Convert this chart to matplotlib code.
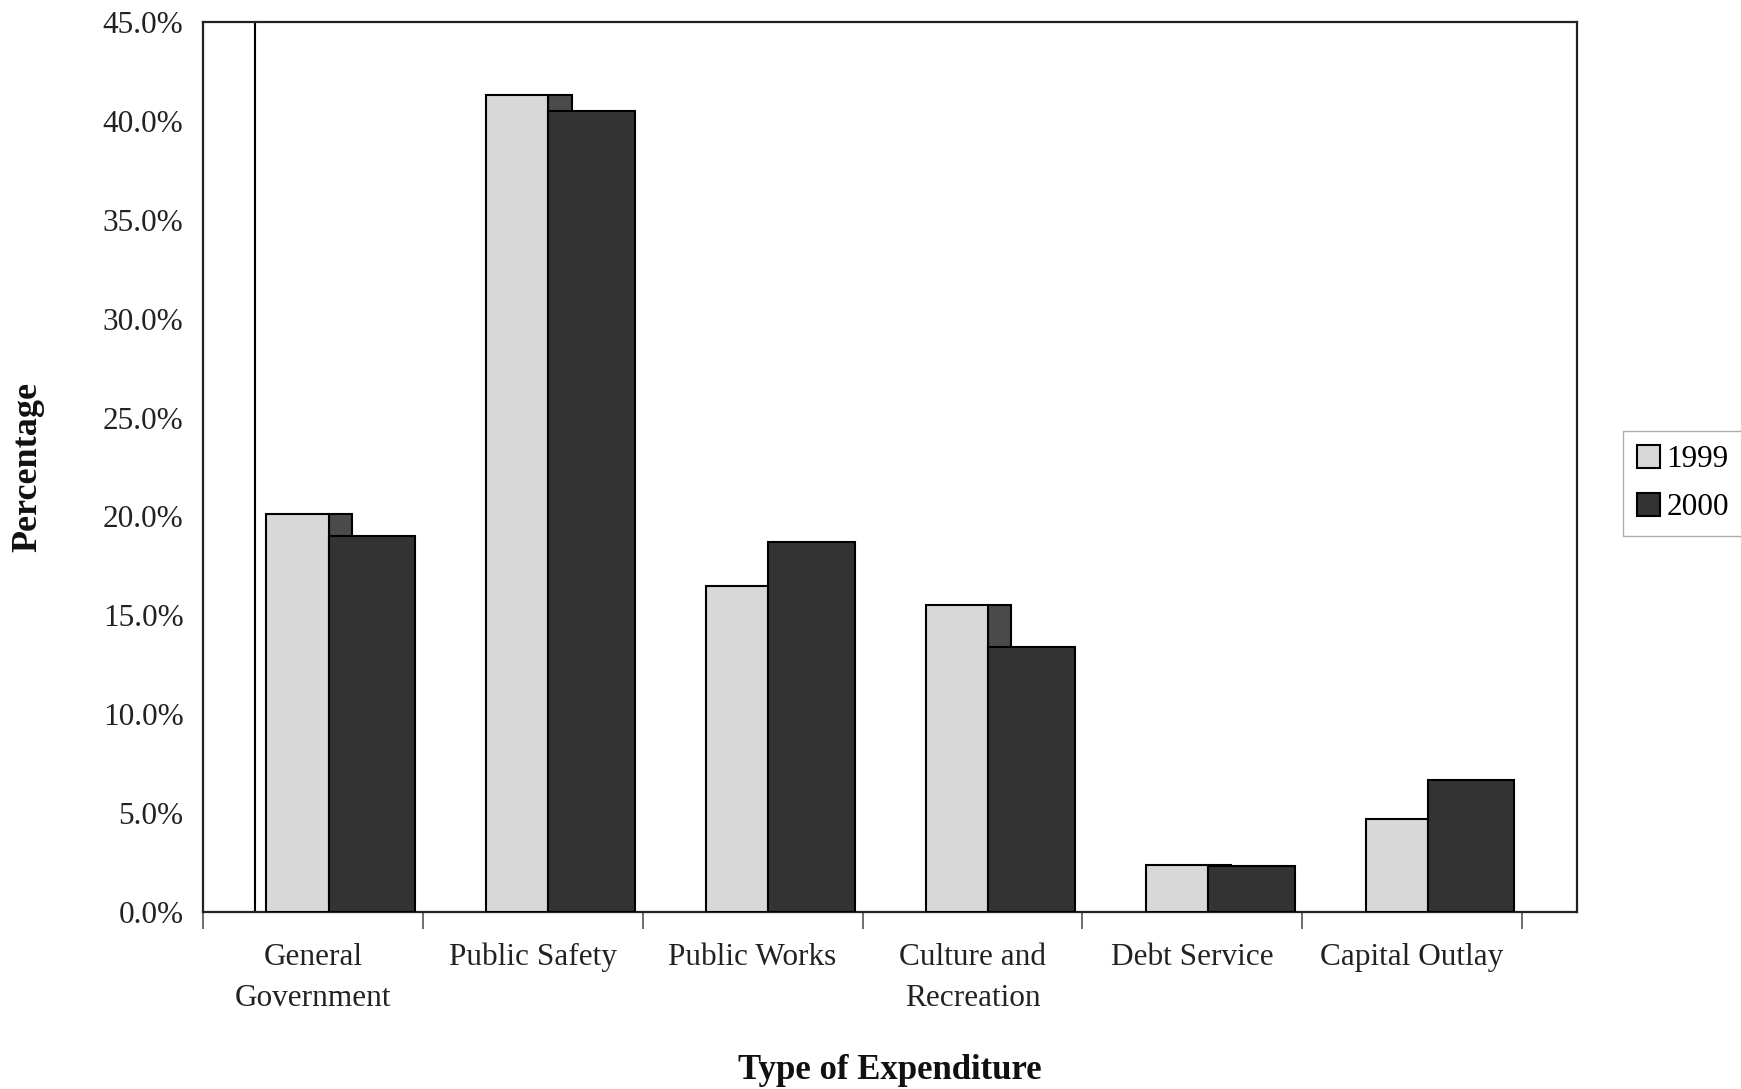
import matplotlib
matplotlib.use("Agg")
import matplotlib.pyplot as plt
import numpy as np
from matplotlib.ticker import FuncFormatter, FixedLocator

categories = ["General\nGovernment", "Public Safety", "Public Works",
              "Culture and\nRecreation", "Debt Service", "Capital Outlay"]
series_names = ["1999", "2000"]
values_1999 = [20.1, 41.3, 16.5, 15.5, 2.4, 4.7]
values_2000 = [19.0, 40.5, 18.7, 13.4, 2.35, 6.7]
y_ticks = [0, 5, 10, 15, 20, 25, 30, 35, 40, 45]

plt.rcParams['font.family'] = ['Liberation Serif', 'DejaVu Serif']

fig = plt.figure(figsize=(17.41, 10.89), dpi=100)
ax = fig.add_axes([0.1166, 0.1625, 0.7892, 0.8173])

x = np.arange(len(categories))
light = "#d8d8d8"
dark = "#333333"
w1 = 0.283
w2 = 0.394
shadow = 0.106
left1 = -0.212
left2 = left1 + w1

# shadow part of the 1999 bars
ax.bar(x + left2, values_1999, width=shadow, align='edge', color="#4a4a4a",
       edgecolor='black', linewidth=1.5, zorder=2)
ax.bar(x + left1, values_1999, width=w1, align='edge', color=light,
       edgecolor='black', linewidth=1.5, zorder=3, label=series_names[0])
ax.bar(x + left2, values_2000, width=w2, align='edge', color=dark,
       edgecolor='black', linewidth=1.5, zorder=3, label=series_names[1])

# stray vertical line seen in the source image
ax.axvline(-0.263, color='black', linewidth=1.5, zorder=1)

ax.set_xlim(-0.5, 5.75)
ax.set_ylim(0, 45)
ax.yaxis.set_major_locator(FixedLocator(y_ticks))
ax.yaxis.set_major_formatter(FuncFormatter(lambda v, p: f"{v:.1f}%"))

ax.set_xticks(x)
ax.set_xticklabels(categories, fontsize=22.5, color='#222222', linespacing=1.55)
ax.set_xticks(np.arange(-0.5, 6.0, 1.0), minor=True)
ax.tick_params(axis='x', which='major', length=0, pad=22)
ax.tick_params(axis='x', which='minor', length=12, width=1.2, color='#555555')
ax.tick_params(axis='y', length=0, labelsize=22.5, labelcolor='#222222', pad=14)

for s in ax.spines.values():
    s.set_linewidth(1.6)
    s.set_color('#222222')

ax.set_xlabel("Type of Expenditure", fontsize=25, fontweight='bold', labelpad=30, color='#111111')
ax.set_ylabel("Percentage", fontsize=26, fontweight='bold', labelpad=42, color='#111111')

leg = fig.legend(loc='center left', bbox_to_anchor=(0.932, 0.556), fontsize=22.5,
                 frameon=True, fancybox=False, edgecolor='#999999',
                 handlelength=0.75, handleheight=0.75, handletextpad=0.2,
                 borderpad=0.45, labelspacing=0.6, borderaxespad=0)
leg.get_frame().set_linewidth(1.0)

fig.savefig("out.png", dpi=100)
